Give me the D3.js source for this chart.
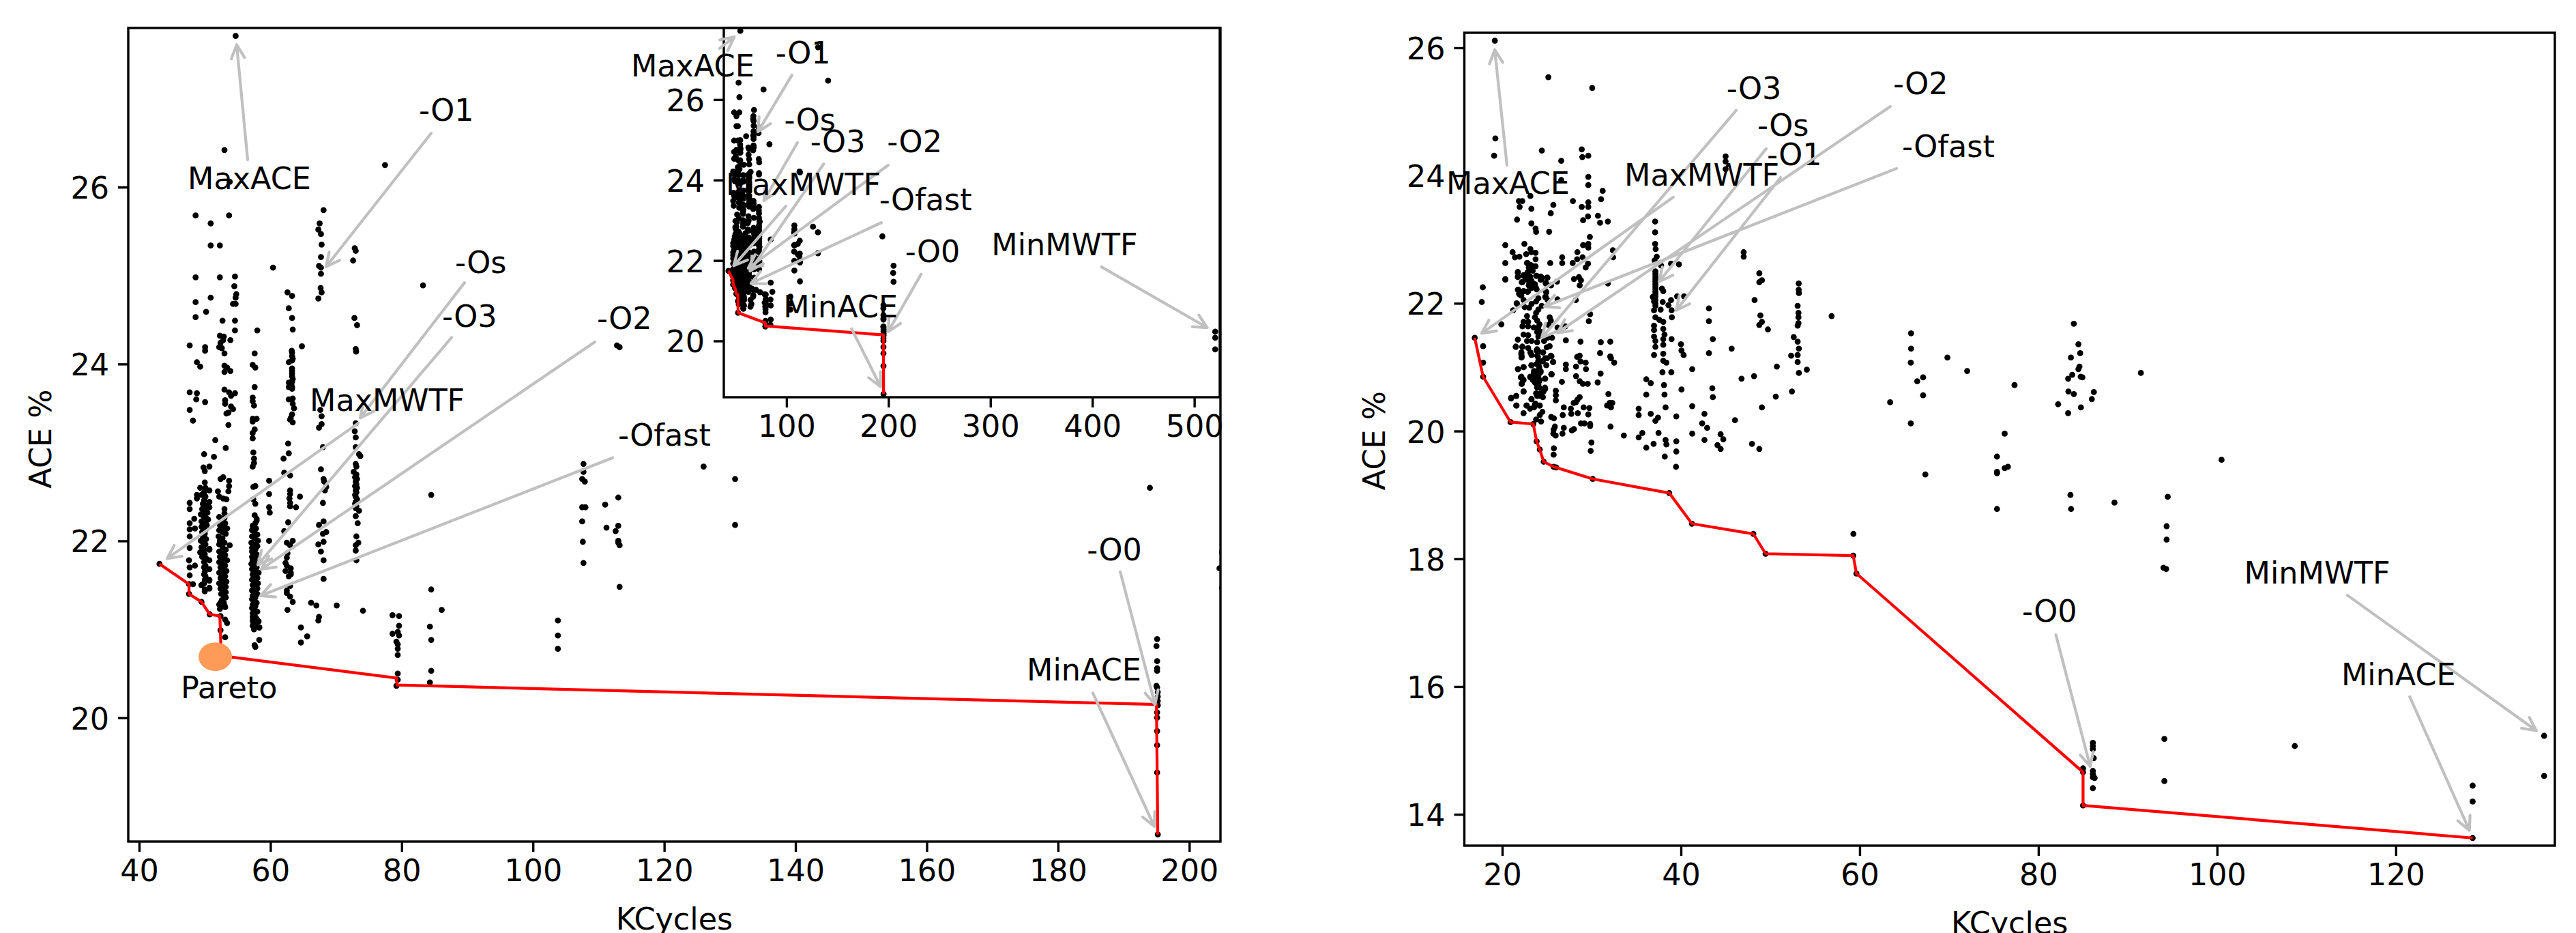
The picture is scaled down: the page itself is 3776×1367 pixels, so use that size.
<!DOCTYPE html>
<html>
<head>
<meta charset="utf-8">
<script src="https://d3js.org/d3.v7.min.js"></script>
<style>
  html, body { margin: 0; padding: 0; background: #fff; }
  text { font-family: "DejaVu Sans"; fill: #000; }
</style>
</head>
<body>
<script>
// left chart: sparse points, [KCycles, ACE %]
var leftSparse = [[54.7,27.71],[53,26.42],[77.46,26.25],[53.8,26.06],[68.1,25.74],[48.6,25.68],[53.7,25.68],[50.9,25.59],[67.5,25.59],[67.3,25.52],[67.7,25.47],[50.9,25.34],[52.3,25.34],[67.8,25.35],[72.85,25.31],[73,25.28],[67.7,25.21],[72.6,25.17],[67.4,25.11],[67.7,25.09],[60.4,25.09],[67.7,25.02],[48.6,24.98],[52.3,24.98],[54.6,24.99],[83.25,24.89],[54.5,24.88],[67.65,24.86],[67.8,24.81],[67.3,24.74],[62.6,24.81],[63.3,24.77],[54.8,24.79],[54.7,24.75],[50.9,24.75],[48.6,24.7],[54.3,24.68],[54.7,24.68],[62.8,24.63],[50.2,24.59],[48.6,24.53],[72.8,24.52],[63.3,24.52],[73.2,24.44],[52.7,24.49],[54.6,24.49],[54.6,24.38],[58,24.38],[63.4,24.39],[52.3,24.32],[52.9,24.31],[52.8,24.27],[53.9,24.27],[52.4,24.24],[52.2,24.19],[52.6,24.18],[47.7,24.21],[50.05,24.19],[50.05,24.15],[64.8,24.2],[73,24.17],[73.05,24.14],[112.8,24.21],[113.2,24.19],[131,27.3],[140.8,26.47],
  [53,24.12],[57.6,24.12],[63.25,24.15],[63.3,24.13],[63.3,24.09],[63.4,24.06],[63.3,24.04],[62.8,24.02],[48.8,24.02],[49.3,23.97],[53,23.98],[53.4,23.96],[53.9,23.92],[53,23.91],[57.3,23.99],[57.7,23.96],[63.3,23.95],[63.3,23.92],[63.3,23.89],[63.3,23.86],[63.4,23.83],[63.3,23.8],[63.2,23.77],[63.3,23.74],[63.3,23.72],[62.8,23.79],[62.8,23.74],[57.6,23.74],[47.7,23.68],[48.8,23.67],[48.7,23.6],[50.05,23.57],[53,23.71],[53.7,23.68],[54,23.64],[54.6,23.67],[53.1,23.59],[53.1,23.55],[54,23.52],[54.3,23.49],[57.3,23.62],[57.3,23.58],[57.5,23.53],[62.8,23.6],[63.4,23.61],[63.4,23.55],[63.6,23.5],[47.7,23.48],[48.2,23.36],[53.3,23.44],[53.6,23.45],[53.6,23.31],[67.6,23.48],[67.8,23.41],[67.8,23.32],[67.4,23.28],[63.3,23.43],[63.1,23.39],[63,23.37],[63.4,23.34],[57.3,23.38],[57.9,23.38],[57.3,23.35],[57.6,23.26],[57.3,23.22],[57.3,23.16],[73,23.33],[72.85,23.24],[73,23.17],[73,23.06],[51.6,23.14],[62.7,23.1],[68,23.06],[53.2,23.05],[57.4,23],[73.5,22.98],[73.7,22.96],[62.8,22.99],[49.9,22.98],[51.4,22.95],[62,22.93],[57.5,22.93],[57.5,22.88],[57.3,22.84],[73,22.87],[73.1,22.84],[50.7,22.84],[49.8,22.83],[50,22.79],[67.7,22.81],[72.7,22.78],[62.1,22.77],[63,22.74],[52.8,22.72],[52.4,22.7],[53.7,22.68],[53.7,22.62],[53.6,22.56],[68.1,22.7],[68.2,22.67],[59.8,22.68],[57.7,22.62],[57.4,22.61],
  [48.8,22.52],[48.8,22.48],[52,22.56],[52.2,22.5],[52.8,22.48],[53.3,22.47],[63,22.57],[63,22.53],[62.9,22.48],[64.5,22.5],[59.8,22.53],[68.5,22.61],[68.3,22.57],[47.7,22.43],[47.7,22.36],[63,22.43],[63,22.39],[63.9,22.38],[68,22.43],[57.4,22.47],[57.7,22.42],[59.8,22.38],[59.9,22.32],[53,22.36],[57.6,22.29],[57.9,22.23],[48.4,22.25],[47.7,22.2],[47.7,22.13],[47.7,22.05],[48.5,22.14],[62.7,22.21],[68.1,22.22],[67.4,22.18],[73.3,22.2],[73,22.28],[73.5,22.34],[62.1,22.11],[68.5,22.1],[68,22.08],[73.1,22.05],[73.4,21.98],[73,21.95],[73,21.89],[73.1,21.78],[59.8,22],[63.4,22],[68.1,21.99],[67.3,21.96],[62.5,21.98],[63,21.95],[53.8,21.95],[67.7,21.88],[68.1,21.78],[68.1,21.57],[47.7,21.92],[47.6,21.78],[47.7,21.7],[47.7,21.61],[48.5,21.72],[48.2,21.51],[47.6,21.51],[47.6,21.4],[43.1,21.74],[49.5,21.31],[50.75,21.17],[52.4,21.15],[53.1,21.11],[53.4,21.07],[52.4,20.99],[53.1,20.91],[52.5,20.7],
  [73.1,22.75],[72.9,22.72],[73.2,22.7],[73,22.67],[73.1,22.64],[72.9,22.62],[73.2,22.6],[73,22.57],[73.1,22.55],[72.9,22.52],[73,22.5],[73.2,22.47],[73,22.44],[72.9,22.42],[73.1,22.39],[73,22.37],
  [62.6,21.86],[62.5,21.81],[62.3,21.75],[62.5,21.72],[63.1,21.69],[62.3,21.66],[63.1,21.64],[62.8,21.6],[63.1,21.62],[63,21.49],[62.5,21.44],[62.5,21.41],[63,21.37],
  [49.3,21.87],[50.7,21.91],[50.7,21.56],[50.7,21.46],[49.5,21.5],[50,21.43],[52.4,21.3],[52.4,21.26],[53,21.27],
  [66.2,21.3],[67,21.27],[70.1,21.27],[74.1,21.21],[62.6,21.22],[63.4,21.31],[84.5,21.45],[84.5,22.52],[84.3,21.03],[86.1,21.22],[84.5,20.88],[84.5,20.53],[84.3,20.4],[64.65,21.02],[65.6,20.92],[64.65,20.85],[67.4,21.14],[67.3,21.1],[58.3,21.02],[58.3,20.88],[57.6,20.82],[57.5,21]];
// left chart: three dense compiler columns
var leftColA = [[50,22.66],[49.3,22.6],[50.1,22.6],[50.7,22.57],[49.9,22.55],[49.5,22.52],[50.1,22.5],[49.9,22.46],[50.7,22.44],[49.7,22.42],[50.2,22.4],[50.7,22.38],[49.6,22.36],[50,22.34],[50.4,22.32],[49.4,22.3],[49.8,22.28],[50.2,22.26],[50.5,22.24],[49.5,22.22],[49.9,22.2],[50.3,22.18],[49.5,22.16],[49.9,22.14],[50.1,22.12],[49.6,22.1],[50,22.08],[49.7,22.05],[50.2,22.02],[49.4,22],[49.8,21.98],[50.1,21.96],[49.5,21.93],[49.9,21.9],[50.7,21.9],[49.4,21.87],[50,21.85],[49.6,21.82],[50.2,21.8],[50.7,21.78],[49.9,21.76],[50.1,21.72],[49.9,21.7],[50.7,21.68],[50,21.65],[49.9,21.62],[50.1,21.6],[50,21.56],[50.7,21.55],[49.9,21.52],[49.5,21.5],[50.7,21.47],[50,21.45]];
var leftColB = [[53,22.31],[52.2,22.27],[53,22.26],[52.6,22.23],[53.1,22.2],[52.3,22.18],[52.9,22.16],[53.4,22.14],[52.2,22.12],[52.7,22.1],[53.2,22.08],[52.1,22.05],[52.7,22.03],[52.3,22],[53,21.98],[52.2,21.96],[52.7,21.93],[53.2,21.9],[52.2,21.88],[52.7,21.86],[53.1,21.84],[52.3,21.82],[52.9,21.8],[53.4,21.78],[52.2,21.76],[52.7,21.74],[53.1,21.72],[52.4,21.7],[52.9,21.68],[53.3,21.66],[52.2,21.64],[52.7,21.62],[53.1,21.6],[52.4,21.58],[52.9,21.56],[53.3,21.54],[52.2,21.52],[52.7,21.5],[53.2,21.48],[52.4,21.46],[52.9,21.44],[53.2,21.42],[52.5,21.4],[52.9,21.38],[53.2,21.36],[52.6,21.33],[52.9,21.3],[52.2,21.28],[52.8,21.26],[53.1,21.25],[52.3,21.23]];
var leftColC = [[57.9,22.25],[57.7,22.2],[57.3,22.17],[57.8,22.14],[57.2,22.12],[57.6,22.1],[58,22.07],[57.2,22.05],[57.6,22.03],[58.1,22],[57.1,21.98],[57.5,21.96],[58,21.94],[57.2,21.92],[57.7,21.9],[57.2,21.88],[57.6,21.86],[58,21.84],[57.2,21.82],[57.6,21.8],[57.3,21.78],[57.8,21.76],[57.1,21.74],[57.5,21.72],[57.9,21.7],[57.2,21.68],[57.6,21.66],[58.2,21.64],[57.3,21.62],[57.7,21.6],[58,21.58],[57.2,21.56],[57.6,21.54],[58.1,21.52],[57.3,21.5],[57.7,21.48],[58,21.46],[57.2,21.44],[57.6,21.42],[58,21.4],[57.3,21.38],[57.7,21.36],[57.2,21.34],[57.6,21.32],[57.9,21.3],[57.3,21.28],[57.7,21.26],[57.2,21.24],[57.5,21.22],[58,21.2],[57.3,21.18],[57.6,21.16],[57.3,21.14],[57.9,21.12],[57.3,21.1],[58.2,21.09],[57.4,21.07],[57.9,21.05],[57.3,21.04],[58.3,21.02],[57.7,20.8]];
// left chart: far columns, only the last ones need the inset to be seen
var leftFar = [[78.6,21.16],[79.6,21.15],[79.6,21.04],[79.4,20.97],[78.6,20.95],[79.6,20.93],[79.2,20.86],[79.4,20.83],[79.4,20.78],[79.4,20.71],[79.4,20.5],[79.4,20.43],[79.2,20.36],[103.8,21.1],[103.8,20.93],[103.8,20.78],
  [107.7,22.87],[107.7,22.78],[107.5,22.7],[107.9,22.67],[113,22.49],[111,22.41],[107.5,22.38],[108,22.38],[107.5,22.22],[111.2,22.15],[113,22.17],[112.6,22.11],[113,22],[113,21.98],[113.2,21.95],[107.6,21.99],[107.7,21.75],[113.2,21.48],[126,22.84],[130.8,22.7],[130.8,22.18],
  [194,22.6],[195.1,20.89],[195,20.81],[195.1,20.64],[195.1,20.56],[195.1,20.53],[195,20.36],[195.1,20.34],[195.2,20.29],[195.2,20.24],[195.2,20.19],[195.2,20.14],[195.1,20.06],[195.1,20],[195.1,19.85],[195.1,19.69],[195.1,19.38],[195.2,18.68],
  [205,21.87],[204.6,21.69],[205,21.47],[520.5,20.23],[520.5,20.08],[520.5,19.79]];
var leftPareto = [[43.1,21.74],[47.6,21.51],[47.6,21.4],[49.5,21.31],[50.75,21.17],[52.3,21.15],[52.5,20.7],[79.2,20.45],[79.3,20.37],[195,20.15],[195.2,18.68]];

// right chart points
var rightSparse = [[19.17,26.11],[25.16,25.54],[30.07,25.37],[19.23,24.58],[19.09,24.31],[28.9,24.41],[29.63,24.31],[28.96,24.29],[24.43,24.39],[26.6,24.23],[45,24.3],[45,24.22],[45,24.1],[29.63,23.98],[29.63,23.85],[26.6,23.93],[31.24,23.76],[31.06,23.63],[21.86,23.6],[22.24,23.6],[23.15,23.68],[21.95,23.51],[23.26,23.48],[25.72,23.54],[27.91,23.6],[29.63,23.58],[29.63,23.51],[28.9,23.51],[25.43,23.41],[30.71,23.37],[21.66,23.31],[29.6,23.36],[29.05,23.3],[30.95,23.26],[31.82,23.28],[23.26,23.25],[23.73,23.17],[23.79,23.12],[25.25,23.12],[37.11,23.28],[37.11,23.11],[37.11,22.93],[37.17,22.85],[37.29,22.73],[37.05,22.67],[29.81,23.04],[29.63,22.93],[29.05,22.91],[29.63,22.87],[20.34,22.91],[22.48,22.93],[32.38,22.83],[32.41,22.72],[28.41,22.8],[23.15,22.85],[23.26,22.8],[23.73,22.79],[23.73,22.69],[21.16,22.8],[21.42,22.72],[21.92,22.73],[22.68,22.77],[47.02,22.8],[47.02,22.73],[26.71,22.72],[26.71,22.63],[20.34,22.63],[25.37,22.63],[28.99,22.72],[28.38,22.69],[27.88,22.63],[29.6,22.62],[29.34,22.56],[22.83,22.63],[23.18,22.6],[23.73,22.58],[22.97,22.56],[38.89,22.62],[39.77,22.61],[37.78,22.59],[23.41,22.51],[22.83,22.48],[21.75,22.48],[21.75,22.41],[22.39,22.43],[20.34,22.38],[48.77,22.47],[49.06,22.36],[48.77,22.33],[24.43,22.4],[25.02,22.4],[24.35,22.37],[23.85,22.43],[23.12,22.42],[22.68,22.38],[28.03,22.38],[28.58,22.41],[28.81,22.36],[28.67,22.28],[26.13,22.34],[24.87,22.31],[22.18,22.33],[23.26,22.35],[22.97,22.28],[31.82,22.31],[53.18,22.31],[17.83,22.25],[17.71,22.02],[53.18,22.21],[53.2,22.16],[23.56,22.26],[23.85,22.22],[21.8,22.21],[22.39,22.19],[22.83,22.18],[21.95,22.14],[25.46,22.28],[24.87,22.19],[24.87,22.1],[25.08,22.05],[37.87,22.23],[38.02,22.19],
  [37.14,22.5],[37.14,22.46],[37.14,22.42],[37.14,22.38],[37.14,22.34],[37.14,22.3],[37.14,22.26],[37.14,22.22],[37.14,22.18],[37.14,22.14],[37.14,22.1],[37.14,22.05],[37.14,22],[37.14,21.96],[36.85,22.1],[36.99,22.03],[36.99,21.89],[37.96,22.02],[38.6,21.97],[37.73,21.9],[38.89,22.05],[39.57,22.11],[40.35,22.11],[38.95,21.89],[38.98,21.78],[48.24,22.05],[53.06,21.96],[53.15,21.85],[53.15,21.78],[53.15,21.69],[53.06,21.65],[43.13,21.92],[43.13,21.72],[28.23,22.05],[29.84,21.83],[29.69,21.72],[21.66,21.99],[21.22,21.89],[48.89,21.81],[49.06,21.71],[48.77,21.66],[49.73,21.59],[56.86,21.8],[26.19,22.06],[19.9,21.67],[26.19,21.62],[27.06,21.64],[16.92,21.46],[17.86,21.33],[27.12,21.42],[28.76,21.4],[31.03,21.39],[32.09,21.4],
  [37.14,21.78],[37.58,21.74],[38.02,21.71],[36.99,21.65],[38.02,21.6],[36.99,21.58],[38.16,21.51],[36.99,21.48],[38.02,21.44],[37.14,21.41],[38.02,21.35],[37.14,21.32],[38.95,21.44],[40,21.36],[40.06,21.26],[40.3,21.19],[43.57,21.44],[43.13,21.22],[45.67,21.29],[52.62,21.47],[53.06,21.4],[53.2,21.29],[53.06,21.19],[52.33,21.18],[36.99,21.19],[38.02,21.21],[30.95,21.22],[32.09,21.17],[28.38,21.16],[28.67,21.18],
  [17.86,21.07],[17.86,20.85],[21.51,21.32],[22.24,21.32],[22.15,21.23],[22.15,21.19],[22.15,21.15],[27.12,21.04],[27.12,20.97],[28.76,21.09],[29.34,21.07],[28.26,21.01],[29.37,20.97],[28.26,20.86],[28.67,20.78],[29.02,20.74],[29.57,20.74],[26.68,20.77],[30.68,20.76],[31.01,20.9],[32.1,21.16],[32.17,21.14],[32.53,21.07],[37.93,20.92],[38.92,20.92],[38.02,21.1],[38.37,21.07],[50.73,21.01],[53.2,20.91],[54.09,20.96],[53.06,21.08],[41.26,20.97],[36.12,20.81],[36.62,20.75],[38.1,20.72],[36.12,20.57],[38.16,20.57],[40.06,20.65],[43.51,20.67],[43.57,20.53],[46.78,20.82],[48.18,20.86],[50.61,20.54],[52.42,20.62],[41.26,20.39],[49.06,20.37],[38.28,20.37],[35.27,20.35],[35.27,20.25],[36.62,20.27],[37.43,20.21],[37.14,20.16],[39.48,20.23],[42.63,20.27],[46.05,20.17],[42.37,20.12],[42.93,20.05],[41.26,19.96],[44.44,19.95],[44.74,19.87],[42.63,19.86],[44.09,19.78],[44.44,19.72],[47.95,19.8],[48.77,19.72],[39.48,19.84],[39.48,19.68],[39.45,19.44],[38.28,19.86],[38.37,19.79],[38.19,19.6],[36.94,19.8],[36.12,19.74],[37.49,19.97],[35.68,19.97],[35.27,19.9],[33.61,19.93],[32.12,20.07],[31.88,20.58],[31.74,20.4],[32.03,20.44],[32.32,20.44],[32.17,20.37],
  [26.89,20.37],[27.68,20.35],[29.11,20.37],[29.75,20.36],[26.77,20.25],[27.73,20.27],[28.46,20.28],[29.63,20.26],[25.48,20.22],[25.78,20.2],[28.81,20.12],[29.2,20.12],[29.84,20.11],[29.84,20.08],[25.89,20.07],[25.75,20.02],[26.89,20.05],[25.72,19.96],[25.98,19.93],[26.74,19.96],[27.79,20.01],[28.03,20.03],[29.98,19.82],[29.9,19.69],[25.78,19.73],[25.75,19.63],[26,20.63],[26,20.56],[26,20.48],[28.23,20.45],[28.67,20.53],[28.41,20.49],[28,20.44],[24.2,20.25],[24.49,20.3],[24.35,20.15],[23.79,20.18],[20.99,20.52],[21.57,20.55],[21.6,20.4],[22.74,20.4],[22.39,20.28],[23.26,20.5],[22.39,20.62],[23.12,20.35],[23.56,20.37],[23.7,20.43],[24.2,20.4],[21.77,20.97],[22.39,21],[22.15,20.85],[22.33,20.79],[22.18,20.74],[23.26,21.03],[25.54,20.89],[24.78,20.82],[24.78,20.68],[24.62,20.62],[25.69,21.08],[25.51,21.17],[25.02,21.14],
  [20.93,20.14],[23.47,20.11],[23.85,19.84],[24.2,19.71],[24.64,19.52],[25.75,19.44],[26.04,19.43],[30.13,19.25],[38.69,19.03],[41.23,18.55],[48.1,18.39],[49.47,18.08],[59.28,18.05],[59.64,17.77],[59.3,18.39]];
var rightDense = [[22.77,22.63],[23.15,22.58],[23.53,22.58],[23.02,22.51],[21.75,22.49],[21.75,22.42],[22.39,22.44],[22.9,22.42],[23.79,22.43],[24.3,22.42],[25.06,22.4],[20.35,22.37],[22.77,22.37],[23.28,22.35],[22.26,22.33],[24.3,22.37],[24.88,22.32],[23.02,22.3],[23.66,22.3],[23.28,22.24],[23.79,22.24],[21.75,22.21],[22.39,22.19],[22.9,22.19],[21.88,22.15],[22.13,22.12],[24.93,22.17],[24.81,22.1],[24.04,22.08],[22.39,22.05],[23.79,22.03],[21.62,22],[24.42,21.96],[23.28,21.99],[22.51,21.94],[23.02,21.93],[24.04,21.9],[23.79,21.85],[22.77,21.8],[25.31,21.78],[23.66,21.78],[22.39,21.71],[22.9,21.71],[23.91,21.73],[24.17,21.67],[25.44,21.73],[22.26,21.64],[22.9,21.64],[24.04,21.62],[23.53,21.62],[25.19,21.66],[22.39,21.51],[22.9,21.5],[23.91,21.55],[24.42,21.55],[25.57,21.46],[24.04,21.48],[25.06,21.46],[21.75,21.43],[22.77,21.41],[23.28,21.41],[23.91,21.39],[24.68,21.41],[21.52,21.32],[22.26,21.32],[22.9,21.3],[23.91,21.28],[25.31,21.33],[24.98,21.31],[23.15,21.23],[24.04,21.25],[24.55,21.23],[22.13,21.21],[22.18,21.16],[23.28,21.19],[23.91,21.18],[25.44,21.18],[24.81,21.14],[24.04,21.1],[24.55,21.1],[23.28,21.03],[24.04,21.03],[24.93,21.03],[25.7,21.08],[21.75,20.97],[22.39,21],[23.91,20.94],[24.3,20.94],[23.53,20.91],[24.04,20.87],[25.49,20.89],[23.15,20.84],[23.66,20.84],[22.08,20.84],[22.39,20.8],[24.17,20.8],[24.81,20.82],[23.66,20.76],[24.04,20.73],[22.18,20.74],[23.91,20.68],[24.81,20.66],[22.39,20.62],[24.3,20.59],[23.91,20.55],[24.55,20.53],[21.57,20.55],[20.99,20.51],[23.28,20.5],[21.57,20.4],[22.72,20.4],[23.66,20.41],[24.17,20.4],
  [23.85,21.26],[24.58,21.23],[24,21.16],[24.43,21.09],[23.85,21.05],[24.14,21],[23.56,20.94],[24.29,20.92],[23.12,20.85],[24,20.87],[23.41,20.8],[24.14,20.78],[23.85,20.73],[24.14,20.68],[23.79,20.59],[24.29,20.55]];
var rightFar = [[65.75,21.53],[65.75,21.29],[65.72,21.07],[69.82,21.15],[72.03,20.94],[67.1,20.84],[66.44,20.78],[67.1,20.56],[63.41,20.45],[65.72,20.12],[77.33,20.72],[67.35,19.32],[76.23,19.96],[75.37,19.6],[76.59,19.44],[76.23,19.42],[75.37,19.36],[75.37,19.34],[75.37,18.78],[83.97,21.68],[84.48,21.36],[84.68,21.22],[83.64,21.15],[84.6,21.01],[84.48,20.97],[83.79,20.88],[83.33,20.82],[84.73,20.85],[84.93,20.84],[83.36,20.62],[83.97,20.58],[86.21,20.61],[85.98,20.5],[82.21,20.42],[84.76,20.37],[83.33,20.28],[91.47,20.91],[83.59,19],[83.66,18.78],[88.52,18.88],[94.48,18.97],[94.35,18.51],[94.35,18.3],[94,17.86],[94.3,17.84],[100.5,19.55],
  [86.1,15.12],[86.1,15.07],[86.1,15.02],[86.2,14.88],[85,14.72],[85,14.66],[86.1,14.68],[86.1,14.63],[86.1,14.58],[86.3,14.57],[86.1,14.41],[85,14.14],[94.1,15.18],[94.1,14.52],[108.7,15.07],[128.6,14.45],[128.6,14.2],[128.6,13.63],[136.6,15.23],[136.6,14.6]];
var rightPareto = [[16.92,21.46],[17.86,20.85],[20.93,20.14],[23.47,20.11],[23.85,19.84],[24.2,19.71],[24.64,19.52],[25.75,19.44],[26.04,19.43],[30.13,19.25],[38.69,19.03],[41.23,18.55],[48.1,18.39],[49.47,18.08],[59.28,18.05],[59.64,17.77],[85,14.66],[85,14.14],[128.6,13.63]];

// annotations: label, where the text starts, where the arrow starts, where it points (data units)
var mainLabels  = ["MaxACE","-O1","-Os","-O3","-O2","MaxMWTF","-Ofast","-O0","MinACE"];
var mainText    = [[47.59,25.98],[82.83,26.75],[88.34,25.03],[86.36,24.42],[109.96,24.4],[66.2,23.47],[113.18,23.08],[184.6,21.78],[175.45,20.42]];
var mainFrom    = [[56.53,26.31],[84.49,26.61],[89.58,24.92],[87.61,24.3],[109.44,24.25],[73.37,23.33],[112.14,22.94],[189.48,21.65],[185.3,20.28]];
var mainTip     = [[54.86,27.61],[68.48,25.1],[73.68,23.39],[58.09,21.73],[58.61,21.68],[44.26,21.8],[58.5,21.38],[194.78,20.15],[194.68,18.77]];

var insetLabels = ["MaxACE","-O1","-Os","-O3","-O2","MaxMWTF","-Ofast","-O0","MinMWTF","MinACE"];
var insetText   = [[-51.2,26.58],[90.6,26.9],[99,25.23],[124.7,24.69],[200,24.69],[41.8,23.62],[192.3,23.25],[217.7,21.96],[302.4,22.13],[98.3,20.58]];
var insetFrom   = [[34.2,27.27],[105.4,26.61],[110.7,24.93],[136.5,24.4],[199.7,24.37],[99.3,23.35],[193,22.94],[232.1,21.66],[409,21.84],[163.9,20.3]];
var insetTip    = [[48.8,27.56],[71.9,25.2],[77.9,23.49],[64.2,21.74],[62.5,21.81],[48.2,21.87],[65.2,21.43],[199.7,20.23],[512.7,20.33],[192.3,18.86]];

var rightLabels = ["MaxACE","-O3","-Os","-O1","-O2","MaxMWTF","-Ofast","-O0","MinMWTF","MinACE"];
var rightText   = [[13.89,23.71],[45.24,25.2],[48.7,24.62],[49.77,24.16],[63.89,25.27],[33.82,23.84],[64.89,24.29],[78.32,17.01],[103.18,17.61],[114.05,16.02]];
var rightFrom   = [[20.53,24.16],[46.18,25.02],[49.54,24.42],[51.15,23.97],[63.44,25.08],[39.13,23.66],[64.12,24.11],[81.96,16.81],[114.58,17.43],[121.56,15.84]];
var rightTip    = [[19.16,25.97],[24.43,21.46],[37.56,22.34],[39.47,21.89],[26.18,21.54],[17.71,21.53],[24.73,21.95],[85.8,14.75],[135.73,15.31],[128.24,13.75]];

var leftPoints  = leftSparse.concat(leftColA, leftColB, leftColC, leftFar);
var rightPoints = rightSparse.concat(rightDense, rightFar);

var width = 3776, height = 1367;
var fontSize = 44.5, dotR = 4.4, lineW = 3.4, tickLen = 15;

var svg = d3.select("body").append("svg")
	.attr("width", width)
	.attr("height", height)
	.style("display", "block");
svg.append("rect").attr("width", width).attr("height", height).attr("fill", "#fff");
var defs = svg.append("defs");
var clipId = 0;

function drawAxes(o) {
	var x = d3.scaleLinear().domain(o.xlim).range([o.left, o.right]);
	var y = d3.scaleLinear().domain(o.ylim).range([o.bottom, o.top]);
	var g = svg.append("g");

	g.append("rect")
		.attr("x", o.left).attr("y", o.top)
		.attr("width", o.right - o.left).attr("height", o.bottom - o.top)
		.attr("fill", "#fff");

	clipId += 1;
	defs.append("clipPath").attr("id", "clip" + clipId).append("rect")
		.attr("x", o.left).attr("y", o.top)
		.attr("width", o.right - o.left).attr("height", o.bottom - o.top);
	var plot = g.append("g").attr("clip-path", "url(#clip" + clipId + ")");

	plot.selectAll("circle.pt")
		.data(o.points)
		.enter().append("circle")
		.attr("class", "pt")
		.attr("cx", function(d) { return x(d[0]); })
		.attr("cy", function(d) { return y(d[1]); })
		.attr("r", dotR)
		.attr("fill", "#000");

	var line = d3.line()
		.x(function(d) { return x(d[0]); })
		.y(function(d) { return y(d[1]); });
	plot.append("path")
		.attr("d", line(o.pareto))
		.attr("fill", "none")
		.attr("stroke", "#ff0000")
		.attr("stroke-width", 4.2)
		.attr("stroke-linejoin", "round");

	if (o.blob) {
		plot.append("ellipse")
			.attr("cx", x(o.blob[0])).attr("cy", y(o.blob[1]))
			.attr("rx", x(o.blob[0] + o.blob[2]) - x(o.blob[0]))
			.attr("ry", y(o.blob[1] - o.blob[3]) - y(o.blob[1]))
			.attr("fill", "#ff9b58");
	}

	var axB = d3.axisBottom(x).tickValues(o.xticks).tickFormat(d3.format("d")).tickSizeInner(tickLen).tickSizeOuter(0).tickPadding(11);
	var axL = d3.axisLeft(y).tickValues(o.yticks).tickFormat(d3.format("d")).tickSizeInner(tickLen).tickSizeOuter(0).tickPadding(13);
	var gx = g.append("g").attr("transform", "translate(0," + o.bottom + ")").call(axB);
	var gy = g.append("g").attr("transform", "translate(" + o.left + ",0)").call(axL);
	[gx, gy].forEach(function(a) {
		a.select(".domain").remove();
		a.selectAll("line").attr("stroke", "#000").attr("stroke-width", lineW);
		a.selectAll("text").style("font-size", fontSize + "px").attr("fill", "#000");
	});
	gy.selectAll("text").attr("dy", "0.37em");

	g.append("rect")
		.attr("x", o.left).attr("y", o.top)
		.attr("width", o.right - o.left).attr("height", o.bottom - o.top)
		.attr("fill", "none")
		.attr("stroke", "#000")
		.attr("stroke-width", lineW);

	if (o.xlabel) {
		g.append("text").attr("x", (o.left + o.right) / 2).attr("y", o.xlabelY)
			.attr("text-anchor", "middle").style("font-size", fontSize + "px").text(o.xlabel);
		g.append("text")
			.attr("transform", "translate(" + o.ylabelX + "," + ((o.top + o.bottom) / 2 + o.ylabelShift) + ") rotate(-90)")
			.attr("text-anchor", "middle").style("font-size", fontSize + "px").text(o.ylabel);
	}

	// annotations, arrow first and then its text, the same way matplotlib does it
	o.labels.forEach(function(label, i) {
		var x0 = x(o.from[i][0]), y0 = y(o.from[i][1]);
		var x1 = x(o.tip[i][0]), y1 = y(o.tip[i][1]);
		var a = Math.atan2(y0 - y1, x0 - x1);
		var head = 22, spread = 0.46;
		var d = "M" + x0 + "," + y0 + "L" + x1 + "," + y1 +
			"M" + (x1 + head * Math.cos(a + spread)) + "," + (y1 + head * Math.sin(a + spread)) +
			"L" + x1 + "," + y1 +
			"L" + (x1 + head * Math.cos(a - spread)) + "," + (y1 + head * Math.sin(a - spread));
		g.append("path").attr("d", d)
			.attr("fill", "none")
			.attr("stroke", "#c0c0c0")
			.attr("stroke-width", 4.2)
			.attr("stroke-linecap", "round")
			.attr("stroke-linejoin", "round");
		g.append("text")
			.attr("x", x(o.text[i][0]) - 2).attr("y", y(o.text[i][1]))
			.style("font-size", fontSize + "px")
			.text(label);
	});

	if (o.note) {
		g.append("text")
			.attr("x", x(o.note[1]) - 2).attr("y", y(o.note[2]))
			.style("font-size", fontSize + "px")
			.text(o.note[0]);
	}
}

// main left chart, the inset sits on top of it
drawAxes({
	left: 188, right: 1789, top: 41, bottom: 1233,
	xlim: [38.34, 204.75], ylim: [18.6, 27.8],
	xticks: [40, 60, 80, 100, 120, 140, 160, 180, 200],
	yticks: [20, 22, 24, 26],
	points: leftPoints, pareto: leftPareto,
	blob: [51.6, 20.69, 2.55, 0.162],
	labels: mainLabels, text: mainText, from: mainFrom, tip: mainTip,
	note: ["Pareto", 46.55, 20.22],
	xlabel: "KCycles", ylabel: "ACE %", xlabelY: 1362, ylabelX: 75, ylabelShift: 6
});

drawAxes({
	left: 1061, right: 1788, top: 41, bottom: 582,
	xlim: [38.5, 525], ylim: [18.6, 27.78],
	xticks: [100, 200, 300, 400, 500],
	yticks: [20, 22, 24, 26],
	points: leftPoints, pareto: leftPareto,
	labels: insetLabels, text: insetText, from: insetFrom, tip: insetTip
});

drawAxes({
	left: 2146.5, right: 3745, top: 48, bottom: 1239,
	xlim: [15.76, 137.8], ylim: [13.51, 26.235],
	xticks: [20, 40, 60, 80, 100, 120],
	yticks: [14, 16, 18, 20, 22, 24, 26],
	points: rightPoints, pareto: rightPareto,
	labels: rightLabels, text: rightText, from: rightFrom, tip: rightTip,
	xlabel: "KCycles", ylabel: "ACE %", xlabelY: 1368, ylabelX: 2030, ylabelShift: 2
});
</script>
</body>
</html>
